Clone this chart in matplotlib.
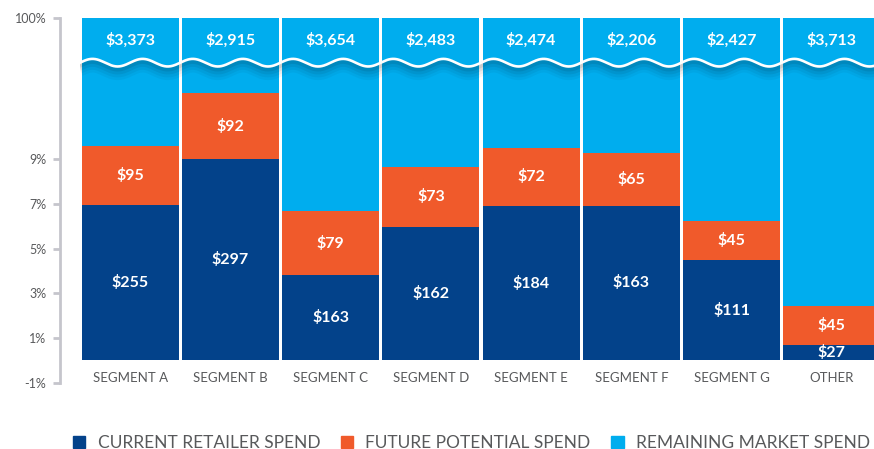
import numpy as np
import matplotlib
matplotlib.use('Agg')
import matplotlib.pyplot as plt
from matplotlib.patches import Patch

# Categories and labels
segments = ['SEGMENT A', 'SEGMENT B', 'SEGMENT C', 'SEGMENT D',
            'SEGMENT E', 'SEGMENT F', 'SEGMENT G', 'OTHER']

# Share of market (%)
current_pct = [6.95, 9.01, 3.81, 5.98, 6.91, 6.92, 4.48, 0.66]
future_pct = [2.66, 2.95, 2.87, 2.66, 2.60, 2.36, 1.76, 1.78]

# Dollar labels
current_usd = ['$255', '$297', '$163', '$162', '$184', '$163', '$111', '$27']
future_usd = ['$95', '$92', '$79', '$73', '$72', '$65', '$45', '$45']
remaining_usd = ['$3,373', '$2,915', '$3,654', '$2,483', '$2,474', '$2,206', '$2,427', '$3,713']

ytick_vals = [-1, 1, 3, 5, 7, 9, 100]
legend_labels = ['CURRENT RETAILER SPEND', 'FUTURE POTENTIAL SPEND', 'REMAINING MARKET SPEND']

DARK = '#03428a'
ORANGE = '#f05a2b'
LIGHT = '#00adee'
GREY = '#58595b'
AXIS = '#c5c5cc'

plt.rcParams['font.family'] = ['Lato', 'DejaVu Sans']

BREAK = 14.0
TOP_SPAN = 1.32


def fwd(v):
    v = np.asarray(v, dtype=float)
    return np.where(v <= BREAK, v, BREAK + (v - BREAK) * TOP_SPAN / (100 - BREAK))


def inv(u):
    u = np.asarray(u, dtype=float)
    return np.where(u <= BREAK, u, BREAK + (u - BREAK) * (100 - BREAK) / TOP_SPAN)


fig = plt.figure(figsize=(8.74, 4.49), dpi=100)
ax = fig.add_axes([80 / 874, 0.143, 802 / 874, 0.8169])
ax.set_yscale('function', functions=(fwd, inv))

x = np.arange(len(segments))
cur = np.array(current_pct)
fut = np.array(future_pct)
rem = 100 - cur - fut
w = 0.97

ax.bar(x, cur, w, color=DARK, zorder=2)
ax.bar(x, fut, w, bottom=cur, color=ORANGE, zorder=2)
ax.bar(x, rem, w, bottom=cur + fut, color=LIGHT, zorder=2)

ax.set_xlim(-0.5, len(segments) - 0.5)
ax.set_ylim(-1.1, 100)

# value labels
lab = dict(color='white', ha='center', va='center', fontsize=11.5, fontweight='bold', zorder=5)
for i in range(len(segments)):
    ax.text(x[i], cur[i] / 2, current_usd[i], **lab)
    ax.text(x[i], cur[i] + fut[i] / 2, future_usd[i], **lab)
    ax.text(x[i], 0.9396, remaining_usd[i], transform=ax.get_xaxis_transform(), **lab)

# wavy break line with soft shadow
xw = np.linspace(-0.57, len(segments) - 0.5, 1200)
yw = 13.32 + 0.17 * np.sin(2 * np.pi * (xw + 0.5) / 0.5)
for off, lw, a in [(0.30, 10, 0.035), (0.24, 8, 0.045), (0.17, 6, 0.06), (0.10, 4, 0.08)]:
    ax.plot(xw, yw - off, color='black', lw=lw, alpha=a, zorder=3, solid_capstyle='butt')
ax.plot(xw, yw, color='white', lw=1.9, zorder=4, clip_on=False)

# axes styling
for s in ['top', 'right', 'bottom']:
    ax.spines[s].set_visible(False)
ax.spines['left'].set_position(('outward', 14.4))
ax.spines['left'].set_bounds(-1, 100)
ax.spines['left'].set_color(AXIS)
ax.spines['left'].set_linewidth(2)
ax.set_yticks(ytick_vals)
ax.set_yticklabels([f'{v}%' for v in ytick_vals])
ax.yaxis.set_minor_locator(matplotlib.ticker.NullLocator())
ax.tick_params(axis='y', length=5, width=2, color=AXIS, labelcolor=GREY, labelsize=9, pad=5)
ax.set_xticks(x)
ax.set_xticklabels(segments)
ax.tick_params(axis='x', length=0, labelcolor=GREY, labelsize=9.5, pad=-9.5)

handles = [Patch(color=c) for c in [DARK, ORANGE, LIGHT]]
fig.legend(handles, legend_labels, loc='center left', bbox_to_anchor=(0.072, 0.014),
           ncol=3, frameon=False, fontsize=12.5, handlelength=0.7, handleheight=0.7,
           handletextpad=0.7, columnspacing=1.2, labelcolor=GREY, borderpad=0.1)

fig.savefig('out.png', dpi=100)
